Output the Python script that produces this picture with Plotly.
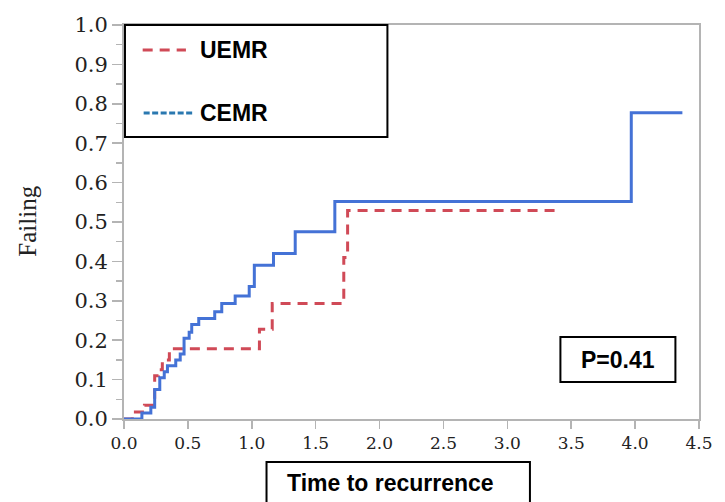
import plotly.graph_objects as go

# CEMR (solid blue) step curve
cemr_t = [0, 0.14, 0.21, 0.24, 0.28, 0.315, 0.34, 0.405, 0.44, 0.47, 0.51, 0.53,
          0.585, 0.71, 0.765, 0.87, 0.98, 1.02, 1.17, 1.34, 1.65, 3.97, 4.37]
cemr_y = [0, 0.015, 0.03, 0.075, 0.105, 0.12, 0.135, 0.15, 0.165, 0.205, 0.22, 0.24,
          0.255, 0.272, 0.293, 0.312, 0.336, 0.39, 0.42, 0.475, 0.552, 0.777, 0.777]

# UEMR (dashed red) step curve
uemr_t = [0, 0.065, 0.16, 0.24, 0.27, 0.30, 0.355, 1.06, 1.16, 1.72, 1.75, 3.42]
uemr_y = [0, 0.018, 0.035, 0.11, 0.125, 0.15, 0.178, 0.228, 0.293, 0.41, 0.529, 0.529]

x_ticks = [0.0, 0.5, 1.0, 1.5, 2.0, 2.5, 3.0, 3.5, 4.0, 4.5]
y_ticks = [0.0, 0.1, 0.2, 0.3, 0.4, 0.5, 0.6, 0.7, 0.8, 0.9, 1.0]
p_text = "P=0.41"
legend_names = ["UEMR", "CEMR"]

BLUE = "#4472D6"
RED = "#D04A57"
LEG_BLUE = "#2A78B0"
AX = "#B4B4B4"

fig = go.Figure()
fig.add_trace(go.Scatter(x=uemr_t, y=uemr_y, mode="lines", line_shape="hv",
                         line=dict(color=RED, width=3, dash="10px,7px"),
                         name=legend_names[0], showlegend=False))
fig.add_trace(go.Scatter(x=cemr_t, y=cemr_y, mode="lines", line_shape="hv",
                         line=dict(color=BLUE, width=3),
                         name=legend_names[1], showlegend=False))

serif = "DejaVu Serif"
sans = "Liberation Sans, Arial, sans-serif"

fig.update_xaxes(range=[0, 4.5], tickvals=x_ticks,
                 ticktext=[f"{v:.1f}" for v in x_ticks],
                 showline=True, linecolor=AX, linewidth=2, mirror=True,
                 ticks="outside", ticklen=8, tickwidth=1.5, tickcolor=AX,
                 showgrid=False, zeroline=False,
                 tickfont=dict(family=serif, size=17, color="#222"))
fig.update_yaxes(range=[0, 1.0], tickvals=y_ticks,
                 ticktext=[f"{v:.1f}" for v in y_ticks],
                 showline=True, linecolor=AX, linewidth=2, mirror=True,
                 ticks="outside", ticklen=10, tickwidth=1.5, tickcolor=AX,
                 minor=dict(dtick=0.05, ticks="outside", ticklen=6, tickcolor=AX, tickwidth=1.5),
                 showgrid=False, zeroline=False,
                 tickfont=dict(family=serif, size=21, color="#222"))

W, H = 725, 502
L, R, T, B = 124, 16, 25, 83
pw, ph = W - L - R, H - T - B

def px(x):
    return (x - L) / pw

def py(y):
    return (H - B - y) / ph

shapes = [
    # legend box
    dict(type="rect", xref="paper", yref="paper", x0=px(125), x1=px(392), y0=py(137), y1=py(25),
         line=dict(color="black", width=2), fillcolor="white", layer="above"),
    dict(type="line", xref="paper", yref="paper", x0=px(143), x1=px(187), y0=py(50), y1=py(50),
         line=dict(color=RED, width=3, dash="10px,7px"), layer="above"),
    dict(type="line", xref="paper", yref="paper", x0=px(144), x1=px(194), y0=py(113), y1=py(113),
         line=dict(color=LEG_BLUE, width=3, dash="6px,2.5px"), layer="above"),
    # P box
    dict(type="rect", xref="paper", yref="paper", x0=px(568), x1=px(685), y0=py(382), y1=py(337),
         line=dict(color="black", width=2), fillcolor="white", layer="above"),
    # x title box
    dict(type="rect", xref="paper", yref="paper", x0=px(269), x1=px(537), y0=py(520), y1=py(462),
         line=dict(color="black", width=2), fillcolor="white", layer="above"),
]

annotations = [
    dict(xref="paper", yref="paper", x=px(199), y=py(50), xanchor="left", yanchor="middle",
         text="<b>UEMR</b>", showarrow=False, font=dict(family=sans, size=23, color="black")),
    dict(xref="paper", yref="paper", x=px(199), y=py(113), xanchor="left", yanchor="middle",
         text="<b>CEMR</b>", showarrow=False, font=dict(family=sans, size=23, color="black")),
    dict(xref="paper", yref="paper", x=px(626.5), y=py(359.5), xanchor="center", yanchor="middle",
         text=f"<b>{p_text}</b>", showarrow=False, font=dict(family=sans, size=23, color="black")),
    dict(xref="paper", yref="paper", x=px(395), y=py(483), xanchor="center", yanchor="middle",
         text="<b>Time to recurrence</b>", showarrow=False, font=dict(family=sans, size=23, color="black")),
    dict(xref="paper", yref="paper", x=px(25), y=py(221), xanchor="center", yanchor="middle",
         text="Failing", textangle=-90, showarrow=False,
         font=dict(family="Liberation Serif", size=25, color="#222")),
]

fig.update_layout(width=W, height=H, margin=dict(l=L, r=R, t=T, b=B),
                  paper_bgcolor="white", plot_bgcolor="white",
                  shapes=shapes, annotations=annotations, showlegend=False)

fig.write_html("out.html",
               config={"displayModeBar": False, "staticPlot": True},
               post_script="document.body.style.margin='0';document.body.style.padding='0';"
                           "document.documentElement.style.overflow='hidden';")
